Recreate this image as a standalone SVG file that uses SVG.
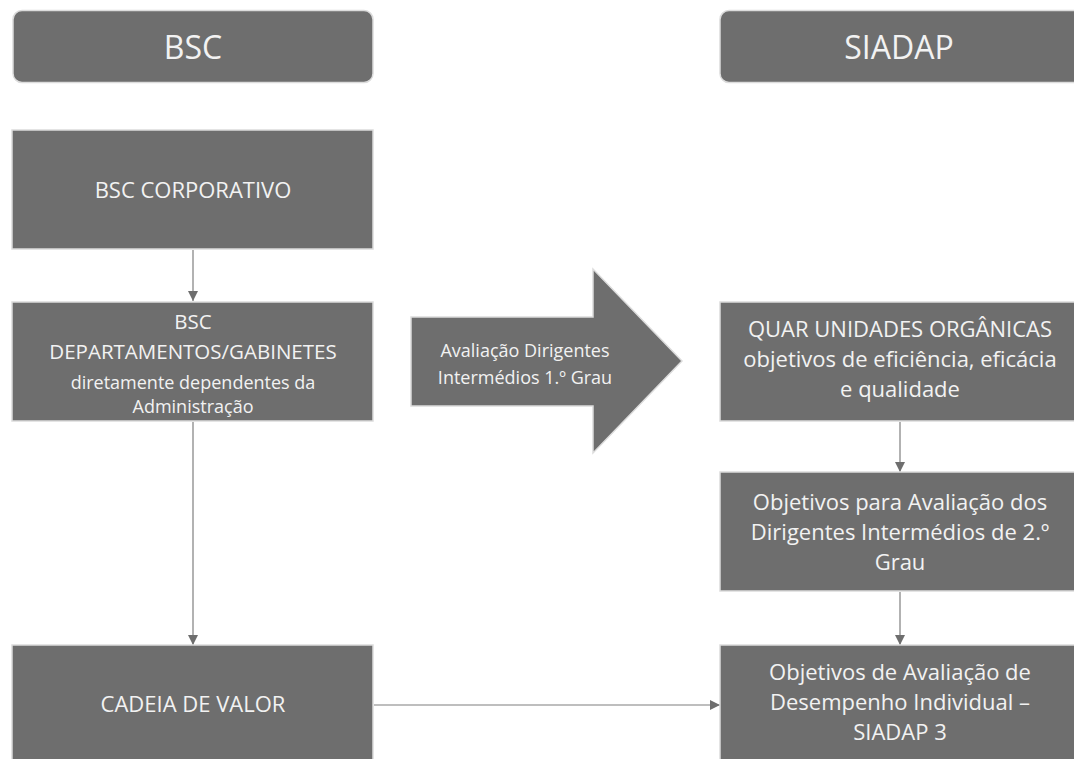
<svg xmlns="http://www.w3.org/2000/svg" width="1074" height="759" viewBox="0 0 1074 759">
<defs>
<style>
.box{fill:#6e6e6e;stroke:#dcdcdc;stroke-width:1.5}
.t{font-family:"Open Sans","Noto Sans",sans-serif;fill:#f2f2f2;text-anchor:middle}
.conn{stroke:#7f7f7f;stroke-width:1.2;fill:none;marker-end:url(#ah)}
</style>
<marker id="ah" viewBox="0 0 10 10" refX="10" refY="5" markerWidth="10" markerHeight="10" markerUnits="userSpaceOnUse" orient="auto">
<path d="M0,0 L10,5 L0,10 Z" fill="#6e6e6e"/>
</marker>
</defs>
<rect width="1074" height="759" fill="#ffffff"/>
<g id="connectors">
<line class="conn" x1="193" y1="250" x2="193" y2="301"/>
<line class="conn" x1="193" y1="422" x2="193" y2="645"/>
<line class="conn" x1="900" y1="422" x2="900" y2="472"/>
<line class="conn" x1="900" y1="592" x2="900" y2="645"/>
<line class="conn" x1="374" y1="705" x2="720" y2="705"/>
</g>
<g id="hdr-bsc">
<rect class="box" x="13" y="10.5" width="360" height="72" rx="9"/>
<text class="t" x="193" y="59" font-size="32">BSC</text>
</g>
<g id="hdr-siadap">
<rect class="box" x="720" y="10.5" width="370" height="72" rx="9"/>
<text class="t" x="899" y="59" font-size="32">SIADAP</text>
</g>
<g id="bsc-corp">
<rect class="box" x="12" y="130" width="361" height="119"/>
<text class="t" x="193" y="198" font-size="22">BSC CORPORATIVO</text>
</g>
<g id="bsc-dep">
<rect class="box" x="12" y="302" width="361" height="119"/>
<text class="t" x="193" y="329" font-size="20.5">BSC</text>
<text class="t" x="193" y="359" font-size="20.5">DEPARTAMENTOS/GABINETES</text>
<text class="t" x="193" y="389" font-size="18">diretamente dependentes da</text>
<text class="t" x="193" y="413" font-size="18">Administração</text>
</g>
<g id="cadeia">
<rect class="box" x="12" y="645" width="361" height="120"/>
<text class="t" x="193" y="712" font-size="22">CADEIA DE VALOR</text>
</g>
<g id="big-arrow">
<polygon class="box" points="411,317 593,317 593,269 682,361 593,453 593,406 411,406"/>
<text class="t" x="525" y="357" font-size="18">Avaliação Dirigentes</text>
<text class="t" x="525" y="384" font-size="18">Intermédios 1.º Grau</text>
</g>
<g id="quar">
<rect class="box" x="720" y="302" width="370" height="119"/>
<text class="t" x="900" y="337" font-size="22">QUAR UNIDADES ORGÂNICAS</text>
<text class="t" x="900" y="367" font-size="22">objetivos de eficiência, eficácia</text>
<text class="t" x="900" y="397" font-size="22">e qualidade</text>
</g>
<g id="obj-dir">
<rect class="box" x="720" y="472" width="370" height="119"/>
<text class="t" x="900" y="510" font-size="22">Objetivos para Avaliação dos</text>
<text class="t" x="900" y="540" font-size="22">Dirigentes Intermédios de 2.º</text>
<text class="t" x="900" y="570" font-size="22">Grau</text>
</g>
<g id="obj-ind">
<rect class="box" x="720" y="645" width="370" height="120"/>
<text class="t" x="900" y="680" font-size="22">Objetivos de Avaliação de</text>
<text class="t" x="900" y="710" font-size="22">Desempenho Individual –</text>
<text class="t" x="900" y="740" font-size="22">SIADAP 3</text>
</g>
</svg>
